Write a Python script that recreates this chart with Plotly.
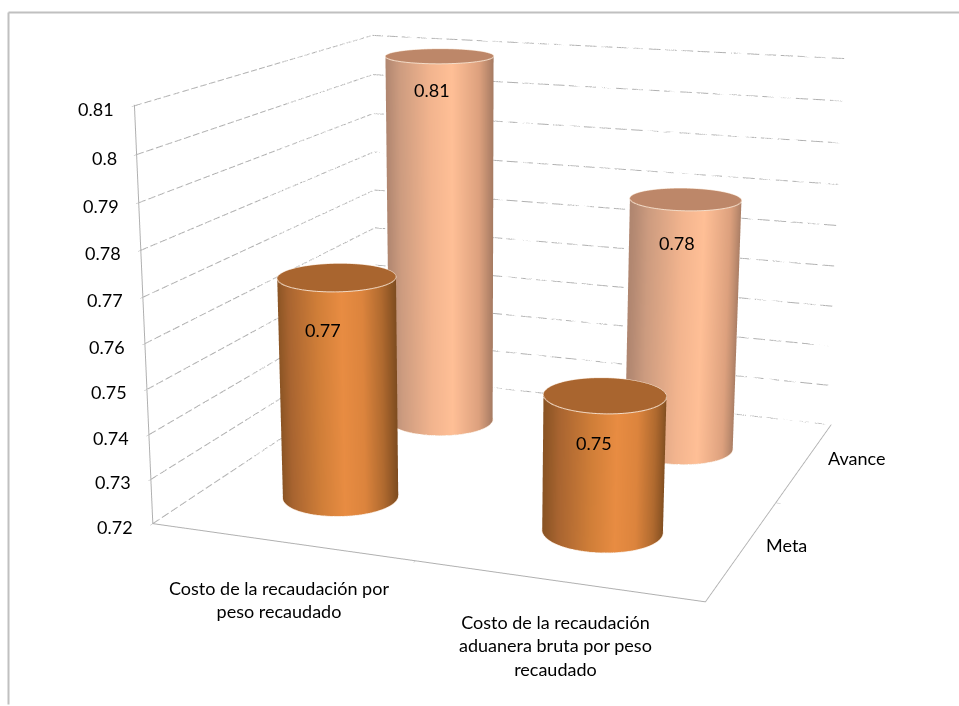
import numpy as np
import plotly.graph_objects as go

categories = ["Costo de la recaudación por<br>peso recaudado",
              "Costo de la recaudación<br>aduanera bruta por peso<br>recaudado"]
series_names = ["Meta", "Avance"]
meta_values = [0.77, 0.75]
avance_values = [0.81, 0.78]
z_ticks = [0.72, 0.73, 0.74, 0.75, 0.76, 0.77, 0.78, 0.79, 0.80, 0.81]
z_tick_labels = ["0.72", "0.73", "0.74", "0.75", "0.76", "0.77", "0.78", "0.79", "0.8", "0.81"]

# The reference has a narrow field of view; Plotly ties the field of view to the
# scene height, so the scene is drawn larger than the window and offset to fit it.
W, H = 974, 1737
LEFT, TOP = -14.5, -518.6
ASPECT = dict(x=1.0, y=0.9916, z=0.7412)
CAMERA = dict(center=dict(x=-0.0630, y=-0.0603, z=-0.1230),
              eye=dict(x=1.2617, y=-3.5367, z=0.9231),
              up=dict(x=0.0108, y=-0.0124, z=1))

BASE = 0.72
RX = 0.21
RY = RX * ASPECT["x"] / ASPECT["y"]
ORANGE_BODY = [[0, "#8a5424"], [0.1, "#a86430"], [0.35, "#d07e38"], [0.55, "#e88c42"], [0.72, "#dc843d"], [0.88, "#b06a2f"], [1, "#7d4c20"]]
PEACH_BODY = [[0, "#b08670"], [0.12, "#cc9b7f"], [0.4, "#f2b48e"], [0.6, "#ffbf96"], [0.85, "#dda17e"], [1, "#a47a62"]]
ORANGE_TOP = "#a9652f"
PEACH_TOP = "#bd8769"
RIM = "#f3dcc8"
FLAT = dict(ambient=1, diffuse=0, specular=0, roughness=1, fresnel=0)
theta = np.linspace(0, 2 * np.pi, 121)
PHI = np.arctan2(0.393, 0.919)
grey = "#b0b0b0"
DASHES = 30

fig = go.Figure()


def broken(a, b):
    edges = np.linspace(a, b, DASHES + 1)
    out = []
    for s, e in zip(edges[:-1], edges[1:]):
        out += [s, s + (e - s) * 0.72, np.nan]
    return np.array(out)


for t in z_ticks:
    seg = broken(0.5, 2.5)
    fig.add_trace(go.Scatter3d(x=0.5 + 0 * seg, y=seg, z=t + 0 * seg, mode="lines",
                               line=dict(color=grey, width=2), hoverinfo="skip", showlegend=False))
    fig.add_trace(go.Scatter3d(x=seg, y=2.5 + 0 * seg, z=t + 0 * seg, mode="lines",
                               line=dict(color=grey, width=2), hoverinfo="skip", showlegend=False))


def cylinder(cx, cy, value, body, top):
    th, zz = np.meshgrid(theta, [BASE, value])
    fig.add_trace(go.Surface(
        x=cx + RX * np.cos(th), y=cy + RY * np.sin(th), z=zz,
        surfacecolor=np.cos(th - PHI), cmin=-1, cmax=1, colorscale=body,
        showscale=False, lighting=FLAT, hoverinfo="skip"))
    th2, rr = np.meshgrid(theta, [0, 1])
    fig.add_trace(go.Surface(
        x=cx + RX * rr * np.cos(th2), y=cy + RY * rr * np.sin(th2), z=value + 0 * rr,
        surfacecolor=0 * rr, cmin=-1, cmax=1, colorscale=[[0, top], [1, top]],
        showscale=False, lighting=FLAT, hoverinfo="skip"))
    for level in (BASE, value):
        fig.add_trace(go.Scatter3d(
            x=cx + RX * np.cos(theta), y=cy + RY * np.sin(theta), z=level + 0 * theta,
            mode="lines", line=dict(color=RIM, width=2), hoverinfo="skip", showlegend=False))


for i in range(2):
    cylinder(i + 1, 2, avance_values[i], PEACH_BODY, PEACH_TOP)
    cylinder(i + 1, 1, meta_values[i], ORANGE_BODY, ORANGE_TOP)

FONT = dict(family="Lato, Carlito, sans-serif", size=18, color="#000000")
notes = []
for t, lab in zip(z_ticks, z_tick_labels):
    notes.append(dict(x=0.5, y=0.5, z=t, text=lab, showarrow=False, xanchor="right", xshift=-18, yshift=-3, font=FONT))
cat_shift = [(-2, -33), (-1, -28)]
for i, cat in enumerate(categories):
    notes.append(dict(x=i + 1, y=0.5, z=BASE, text=cat, showarrow=False, yanchor="top", xshift=cat_shift[i][0], yshift=cat_shift[i][1], font=FONT))
series_shift = [21, 21]
for j, name in enumerate(series_names):
    notes.append(dict(x=2.5, y=j + 1, z=BASE, text=name, showarrow=False, xanchor="left", xshift=series_shift[j], yshift=4, font=FONT))
meta_shift = [(-14, -53), (-11, -48)]
avance_shift = [(-8, -34), (-9, -44)]
for i in range(2):
    notes.append(dict(x=i + 1, y=1, z=meta_values[i], text=f"{meta_values[i]:.2f}", showarrow=False, xshift=meta_shift[i][0], yshift=meta_shift[i][1], font=FONT))
    notes.append(dict(x=i + 1, y=2, z=avance_values[i], text=f"{avance_values[i]:.2f}", showarrow=False, xshift=avance_shift[i][0], yshift=avance_shift[i][1], font=FONT))


def fx(px):
    return (px - LEFT) / W


def fy(py):
    return 1 - (py - TOP) / H


axis_style = dict(showgrid=False, showline=True, linecolor=grey, linewidth=2, zeroline=False,
                  showticklabels=False, ticks="outside", ticklen=4, tickcolor=grey, title="",
                  showspikes=False, showbackground=False)
fig.update_layout(
    width=W, height=H, showlegend=False,
    margin=dict(l=0, r=0, t=0, b=0),
    paper_bgcolor="white",
    shapes=[
        dict(type="line", xref="paper", yref="paper", x0=fx(8), x1=fx(959), y0=fy(13), y1=fy(13), line=dict(color="#c0c0c0", width=2)),
        dict(type="line", xref="paper", yref="paper", x0=fx(8), x1=fx(8), y0=fy(13), y1=fy(705), line=dict(color="#c0c0c0", width=2)),
    ],
    scene=dict(
        domain=dict(x=[0, 1], y=[0, 1]),
        aspectmode="manual", aspectratio=ASPECT,
        camera=CAMERA,
        xaxis=dict(range=[0.5, 2.5], tickvals=[1.5], **axis_style),
        yaxis=dict(range=[0.5, 2.5], tickvals=[1.5], **axis_style),
        zaxis=dict(range=[0.72, 0.8102], tickvals=z_ticks, **axis_style),
        annotations=notes,
    ),
)
post = ("var g=document.querySelector('.plotly-graph-div');"
        f"g.style.position='absolute';g.style.left='{LEFT}px';g.style.top='{TOP}px';"
        "document.documentElement.style.overflow='hidden';document.body.style.overflow='hidden';")
fig.write_html("out.html", post_script=post)
